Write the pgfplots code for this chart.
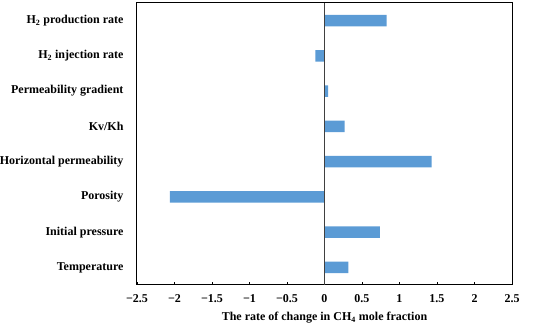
\documentclass[border=0pt]{standalone}
\usepackage{pgfplots}
\pgfplotsset{compat=1.18}
\usepackage{fontspec}
\setmainfont{Liberation Serif}
\definecolor{barblue}{HTML}{5B9BD5}
\begin{document}
\begin{tikzpicture}[x=1pt,y=1pt]
\path[use as bounding box] (0,0) rectangle (550,326);
\begin{axis}[
  at={(137pt,41pt)}, anchor=south west,
  scale only axis, width=375pt, height=282pt,
  xmin=-2.5, xmax=2.5, ymin=-0.5, ymax=7.5,
  xbar, bar width=11.3pt,
  axis line style={black, line width=1pt},
  xtick={-2.5,-2,-1.5,-1,-0.5,0,0.5,1,1.5,2,2.5},
  xticklabels={−2.5,−2,−1.5,−1,−0.5,0,0.5,1,1.5,2,2.5},
  xtick pos=bottom, xtick align=inside,
  major tick length=3pt,
  x tick style={black, line width=0.6pt},
  ytick={0,1,2,3,4,5,6,7},
  yticklabels={Temperature, Initial pressure, Porosity, Horizontal permeability, Kv/Kh, Permeability gradient, H\textsubscript{2} injection rate, H\textsubscript{2} production rate},
  y tick style={draw=none},
  every tick label/.append style={font=\fontsize{12}{14}\selectfont\bfseries},
  yticklabel style={xshift=-7pt},
  xticklabel style={yshift=-6pt},
  xlabel={The rate of change in CH\textsubscript{4} mole fraction},
  xlabel style={font=\fontsize{12}{14}\selectfont\bfseries, yshift=-3pt},
]
\addplot[fill=barblue, draw=none] coordinates {
 (0.32,0) (0.74,1) (-2.06,2) (1.43,3) (0.27,4) (0.05,5) (-0.12,6) (0.83,7)};
\draw[black!75, line width=0.7pt] (axis cs:0,-0.5) -- (axis cs:0,7.5);
\end{axis}
\end{tikzpicture}
\end{document}
